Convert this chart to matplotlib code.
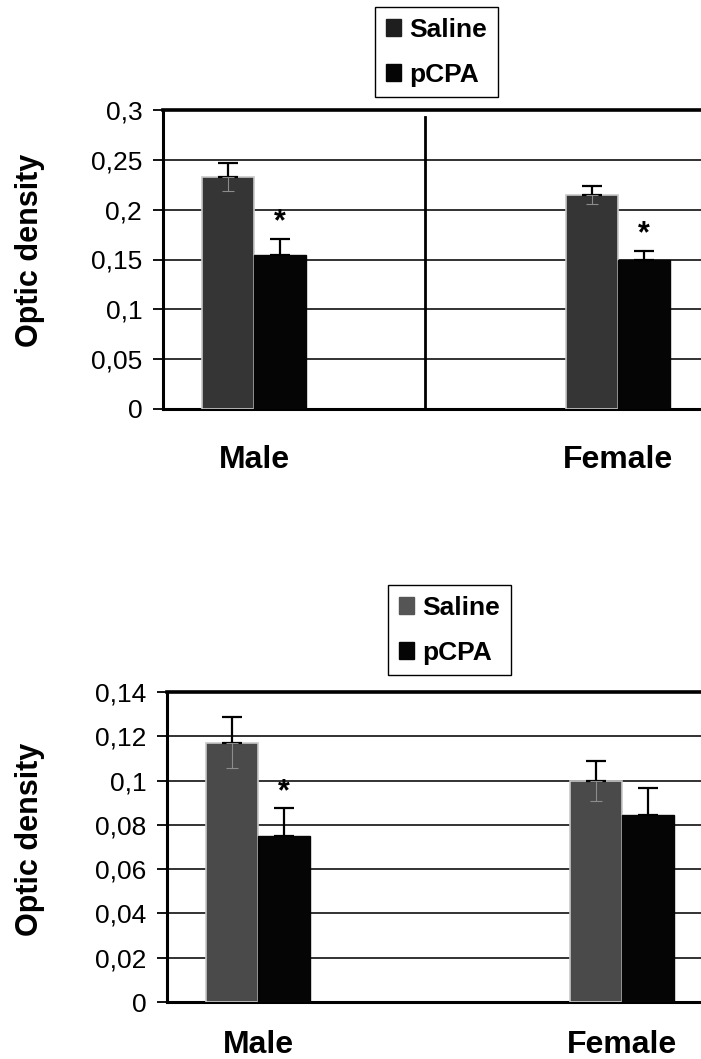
import numpy as np
import matplotlib
matplotlib.use("Agg")
import matplotlib.pyplot as plt
from matplotlib.ticker import MultipleLocator, FuncFormatter
from matplotlib.patches import Patch

plt.rcParams['font.family'] = ['Liberation Sans', 'DejaVu Sans']

# data
group_pos = [0, 2]
group_labels = ["Male", "Female"]
series = ["Saline", "pCPA"]

top_saline = [0.233, 0.215]
top_saline_err = [0.014, 0.009]
top_pcpa = [0.155, 0.1495]
top_pcpa_err = [0.016, 0.009]
top_stars = [True, True]

bot_saline = [0.117, 0.100]
bot_saline_err = [0.0115, 0.009]
bot_pcpa = [0.075, 0.0845]
bot_pcpa_err = [0.0125, 0.012]
bot_stars = [True, False]

W, H = 701, 1059
fig = plt.figure(figsize=(W / 100, H / 100), dpi=100)

bar_w = 0.283
fmt = FuncFormatter(lambda v, p: f"{v:g}".replace(".", ","))


def px_axes(left, top, right, bottom):
    return fig.add_axes([left / W, 1 - bottom / H, (right - left) / W, (bottom - top) / H])


def chart(ax, sal, sal_err, pc, pc_err, stars, ymax, step, sal_color):
    x = np.array(group_pos, dtype=float)
    ax.bar(x - bar_w / 2, sal, bar_w, color=sal_color, edgecolor='#c8c8c8', linewidth=1.2, zorder=3)
    ax.bar(x + bar_w / 2, pc, bar_w, color='#050505', edgecolor='#050505', linewidth=1, zorder=3)
    zeros = np.zeros(len(group_pos))
    # upper halves in black
    for xs, vals, errs in [(x - bar_w / 2, sal, sal_err), (x + bar_w / 2, pc, pc_err)]:
        ax.errorbar(xs, vals, yerr=[zeros, errs], fmt='none', ecolor='black',
                    elinewidth=1.6, capsize=7, capthick=1.6, zorder=4)
    # lower half only shows faintly inside the grey bars
    ax.errorbar(x - bar_w / 2, sal, yerr=[sal_err, zeros], fmt='none', ecolor='#8c8c8c',
                elinewidth=0.8, capsize=4, capthick=0.8, zorder=4)
    for xi, v, e, s in zip(x + bar_w / 2, pc, pc_err, stars):
        if s:
            ax.annotate("*", (xi, v + e), xytext=(0, 1), textcoords='offset points',
                        ha='center', va='bottom', fontsize=22, fontweight='bold')
    ax.set_xlim(-0.5, 2.5)
    ax.set_ylim(0, ymax)
    ax.yaxis.set_major_locator(MultipleLocator(step))
    ax.yaxis.set_major_formatter(fmt)
    ax.grid(axis='y', color='#222222', linewidth=1.3, zorder=0)
    ax.set_xticks(group_pos)
    ax.set_xticklabels(group_labels, fontsize=23, fontweight='bold')
    ax.tick_params(axis='x', length=0)
    ax.tick_params(axis='y', direction='out', length=7, width=1.3, labelsize=19, pad=8)
    for s in ['left', 'bottom']:
        ax.spines[s].set_linewidth(2.2)
    ax.spines['top'].set_linewidth(2.6)
    ax.spines['right'].set_visible(False)


ax1 = px_axes(163, 110, 709, 409)
chart(ax1, top_saline, top_saline_err, top_pcpa, top_pcpa_err, top_stars, 0.3, 0.05, '#353535')
ax1.tick_params(axis='x', pad=26)
ax1.axvline(0.94, ymin=0, ymax=0.976, color='black', linewidth=2, zorder=2)

ax2 = px_axes(167, 692, 713, 1002)
chart(ax2, bot_saline, bot_saline_err, bot_pcpa, bot_pcpa_err, bot_stars, 0.14, 0.02, '#4a4a4a')
ax2.tick_params(axis='x', pad=20)

fig.text(30 / W, 1 - 250 / H, "Optic density", rotation=90, ha='center', va='center',
         fontsize=22, fontweight='bold')
fig.text(30 / W, 1 - 839 / H, "Optic density", rotation=90, ha='center', va='center',
         fontsize=22, fontweight='bold')


def legend(ax, anchor, sal_color):
    handles = [Patch(facecolor=sal_color, edgecolor=sal_color), Patch(facecolor='#050505', edgecolor='#050505')]
    leg = ax.legend(handles, series, loc='upper left', bbox_to_anchor=(anchor[0] / W, 1 - anchor[1] / H),
                    bbox_transform=fig.transFigure, borderaxespad=0, fancybox=False, framealpha=1,
                    edgecolor='black', handlelength=0.6, handleheight=0.6, handletextpad=0.3,
                    labelspacing=0.8, borderpad=0.4, prop={'size': 19, 'weight': 'bold'})
    leg.get_frame().set_linewidth(1.0)


legend(ax1, (375, 7), '#1e1e1e')
legend(ax2, (388, 585), '#555555')

fig.savefig("out.png", dpi=100)
